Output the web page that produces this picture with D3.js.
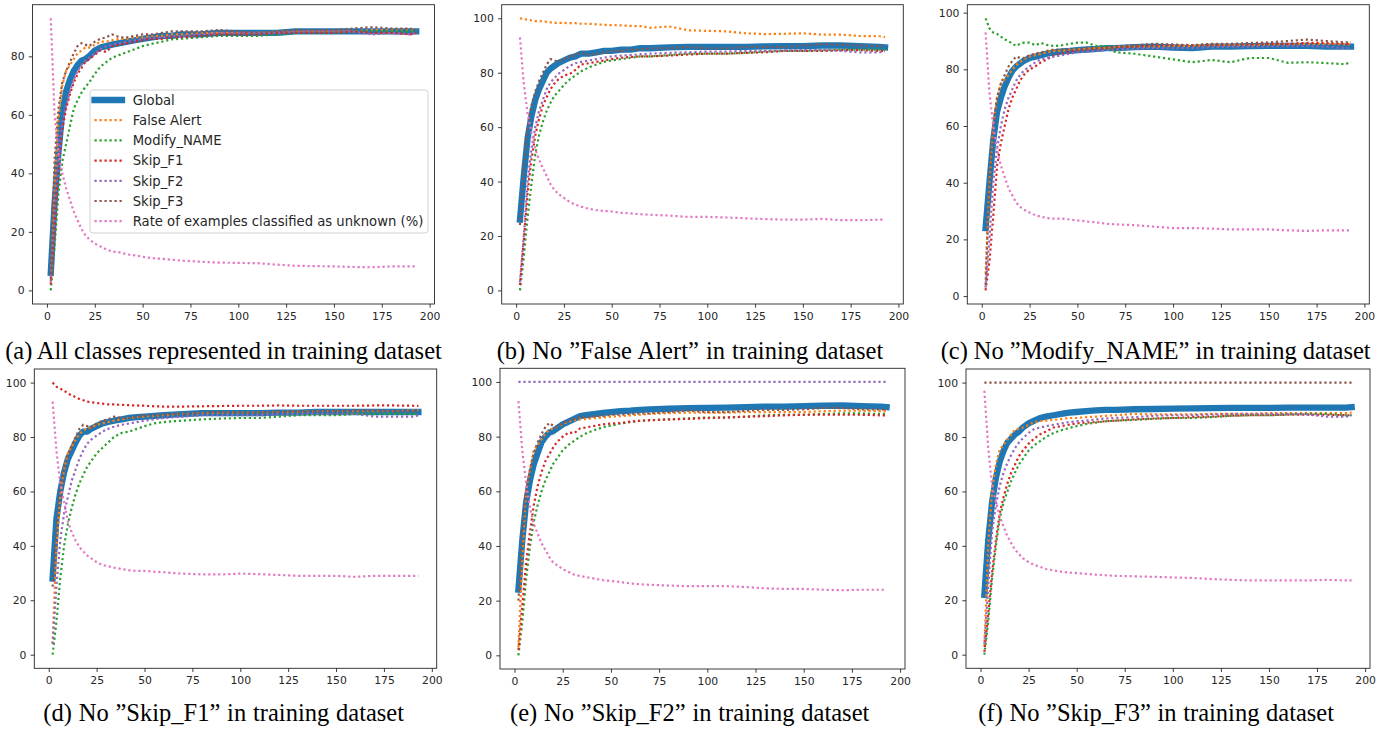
<!DOCTYPE html>
<html><head><meta charset="utf-8">
<script src="https://cdn.jsdelivr.net/npm/d3@7"></script>
<style>body{margin:0;background:#fff;}svg{display:block;}</style>
</head><body>
<svg id="chart" width="1395" height="729"></svg>
<script>
// ---------- data ----------
const epochs = [2,4,6,8,10,12,14,16,18,20,22,25,28,31,34,38,42,46,50,55,60,65,70,80,90,100,110,120,130,140,150,160,170,180,190,193];

const seriesNames = ["Global","False Alert","Modify_NAME","Skip_F1","Skip_F2","Skip_F3","Rate of examples classified as unknown (%)"];
const seriesColors = ["#1f77b4","#ff7f0e","#2ca02c","#d62728","#9467bd","#8c564b","#e377c2"];
const xTickValues = [0,25,50,75,100,125,150,175,200];
const yTickValues = [0,20,40,60,80,100];
const captions = [
  "(a) All classes represented in training dataset",
  "(b) No \u201DFalse Alert\u201D in training dataset",
  "(c) No \u201DModify_NAME\u201D in training dataset",
  "(d) No \u201DSkip_F1\u201D in training dataset",
  "(e) No \u201DSkip_F2\u201D in training dataset",
  "(f) No \u201DSkip_F3\u201D in training dataset"
];

// (a) all classes
const a_global   = [6,30,47,61,68,72,75,77,78.5,79,80,82,83,83.5,84,84.5,85,85.5,86,86.5,87,87,87.5,87.5,88,88,88,88,88.5,88.5,88.5,88.5,88.5,88.5,88.5,88.5];
const a_falseAlert = [3,35,58,70,75,77,79,81,82,83,83,84,85,85,85.5,86,86,86.5,86.5,87,87,87.5,87.5,88,88,88,88,88.5,88.5,88.5,88.5,88.5,89,89,89,89];
const a_modify   = [0,15,33,44,50,56,62,65,67.5,69.5,71,74,76.5,78,79.5,80.5,81.5,82.5,83.5,84.3,85,85.8,86,86.5,87,87,87,87.5,88,88,88,88.5,88.5,88.5,88.5,88.5];
const a_skipF1   = [2,22,42,55,62,67,71,74,76,78,79,80.5,82,81.5,83.5,84,84.5,85,85.5,86,86,86.5,86.5,87,87.5,87.5,87.5,88,88,88,88,88.5,88,88,87.5,88];
const a_skipF2   = [3,25,45,57,63,68,72,75,77,78.5,79.5,81,82.5,83.5,84,84.5,85,85.5,86,86.5,86.5,87,87,87.5,88,88,88,88,88.5,88.5,88.5,88.5,87.5,88,87.5,88];
const a_skipF3   = [4,45,62,71,75,78,81,83.5,84.5,84,83.5,85,86,86.5,87.5,86.5,86.5,87,87.5,87.5,88,88.5,88.5,88.5,89,88.5,88,88.5,89,89,89,89.5,90,89.5,89.5,89];
const a_unknown  = [93,60,47,40,35,31,27,24,21,19,17.5,16,15,14,13.3,13,12.3,12,11.5,11,10.8,10.5,10.2,9.8,9.5,9.4,9.3,8.8,8.4,8.3,8.2,8,7.9,8.2,8.2,8.2];

// (b) no False Alert
const b_global   = [26,42,56,64,70,74,77,80,81.5,82.5,83.5,84.5,85.5,86,87,87,87.5,88,88,88.5,88.5,89,89,89.3,89.5,89.5,89.5,89.5,89.7,89.8,89.8,90,90,89.8,89.5,89.3];
const b_falseAlert = [100,99.7,99.5,99.3,99,99,98.8,98.7,98.5,98.3,98.3,98.3,98.2,98.2,98,98,97.8,97.6,97.5,97.4,97.2,97.1,96.5,97,95.6,95.4,95.2,94.5,94.2,94.3,94.5,94,94,93.5,93.4,93.1];
const b_modify   = [0,12,27,39,50,57,62,66,69,71.5,73,75.5,77.5,79,80.5,82,83,84,84.5,85,85.5,86,86,86.5,87,87,87,87.3,87.8,88,88,88.3,88.5,88.5,88.5,88.5];
const b_skipF1   = [2,18,36,48,57,63,68,71,74,76,77.5,79,79.5,81,83,83.5,84,84.5,85,85.5,85.8,86,86,86.3,86.7,87,87,87.3,87.5,88,88,88,88.3,88.3,88,88];
const b_skipF2   = [3,20,40,52,60,66,70,74,76.5,78,79.5,81,82.5,83.5,84,84.5,85,85.5,86,86.3,86.5,86.8,87,87.3,87.5,87.8,87.8,88,88,88.2,88.3,88.3,88,87.5,87.5,87.8];
const b_skipF3   = [24,45,60,68,73,77,80,83,85,84.5,84,85,86,86.5,87.5,86.5,87,87.5,88,88,88.5,88.5,89,89,89.5,89,89,89.5,89.5,89.5,90,90.5,90.3,90,89.8,89.8];
const b_unknown  = [93,76,65,58,52,48,45,42,39,37,35.5,34,32.5,31.5,30.8,30,29.5,29.2,29,28.5,28.3,28,27.8,27.5,27,27,26.8,26.5,26.2,26,26,26.3,25.8,25.8,26,26];

// (c) no Modify_NAME
const c_global   = [24,40,55,65,70,74,77,79.5,81,82,83,84,84.5,85,85.5,86,86.3,86.5,86.8,87,87.2,87.5,87.5,87.8,88,87.7,87.5,88,88,88.2,88.3,88.3,88.3,88,88,88];
const c_falseAlert = [8,40,60,70,75,76.5,78,80,81.5,82.5,83.5,84.5,85,85.5,86,86.5,86.5,87,87,87.3,87.5,87.5,88,88,88,88.3,88.3,88.5,88.5,88.5,88.8,88.8,89,89,88.8,88.8];
const c_modify   = [98,94.5,93,92.5,91.5,90.5,90,89,88.3,89,89.4,89.4,88.5,89.3,88.6,88.2,88.5,89,89.4,89.4,88.2,88.2,86,85.5,84.5,83.5,82.5,83.3,82.5,84,84,82.3,82.5,82.2,81.8,82.6];
const c_skipF1   = [2,12,28,46,54,60,66,70,73,76,78,80,81,82.5,83.5,85,85.5,86.3,86.6,86.8,87,87.2,87.5,88,88.5,88.5,88.5,88.7,88.7,88.8,89,89,89.3,89.3,89,89];
const c_skipF2   = [3,20,40,52,60,66,70,73,76,78,79.5,81,82.5,83.5,84,84.5,85,85.5,86,86.3,86.5,86.8,87,87.3,87.5,87.5,87.5,87.8,88,88,88,88.2,88.2,88,87.5,87.5];
const c_skipF3   = [4,40,60,70,75,78,81,83,84.5,84,84,85,85.5,86,86.5,87,87,87,87,87.5,87.5,87.8,88,88.5,89,88.8,88.5,89,89,89.3,89.5,90,90.5,90,89.5,89.5];
const c_unknown  = [93,72,60,52,46,42,38,35.5,33,31.5,30.5,29.5,28.5,28,27.5,27.3,27.3,27,26.7,26.3,26,25.5,25.3,25,24.5,24,24,23.8,23.5,23.5,23.5,23.2,23,23.2,23.2,23.2];

// (d) no Skip_F1
const d_global   = [28,50,60,67,72,75,78,80.5,82,82,83,84,85,85.5,86,86.5,87,87.3,87.5,87.8,88,88.2,88.4,88.8,88.8,88.8,88.8,89,89,89.2,89.2,89.2,89.2,89.2,89.2,89.2];
const d_falseAlert = [4,40,58,68,74,76.5,79,81,82.5,83,83.5,84.5,85,85.5,86,86.5,87,87.3,87.5,87.8,88,88.3,88.5,88.8,89,89,89,89.2,89.3,89.5,89.5,89.5,89.5,89.5,89.8,89.8];
const d_modify   = [0,12,28,40,48,54,59,63,66,69,71,74,76,78,80,81.5,82,83,84,85,85.5,85.8,86,86.5,86.8,87,87,87.5,88,88,88,88.5,88.5,88.5,88.5,88.5];
const d_skipF1   = [100,98.5,97.8,97,96,95.3,94.7,94,93.5,93,92.8,92.5,92.3,92,92,91.8,91.7,91.6,91.5,91.3,91.2,91.2,91.2,91.3,91.4,91.5,91.5,91.6,91.5,91.5,91.5,91.5,91.6,91.6,91.5,91.4];
const d_skipF2   = [4,25,42,52,58,64,68,72,75,77.5,79,80.5,82,83,83.8,84.5,85,85.5,86,86.5,87,87.3,87.5,88,88,88,88,88.3,88.5,88.5,88.5,88.5,87.5,87.5,87.5,88];
const d_skipF3   = [25,45,60,68,73,77,80,83,84.5,84,83.5,85,86,86.5,87.5,87,87,87.5,88,88,88.3,88.5,88.5,89,89.3,89,89,89.3,89.5,89.5,89.5,89.8,89.8,89.5,89.5,89.5];
const d_unknown  = [93,75,63,56,49,45,42,39.5,38,36.5,35.5,34,33,32.5,32,31.5,31,30.8,30.8,30.5,30.3,30,29.8,29.5,29.5,29.8,29.6,29.3,29,29,29,28.6,29,29,29,29];

// (e) no Skip_F2
const e_global   = [24,42,56,64,70,74,78,80,81.5,82,83,84.5,85.5,86.5,87.5,88,88.3,88.7,89,89.3,89.5,89.8,90,90.2,90.4,90.5,90.6,90.8,91,91,91.2,91.3,91.4,91.2,91,90.8];
const e_falseAlert = [3,35,60,68,75,77,79,81,82.5,83,83.5,84.5,85.5,86,86.3,86.5,86.8,87,87.3,87.5,87.8,88,88.3,88.6,88.8,88.8,88.8,89,89,89,89,89.3,89.5,89.5,89.3,89.3];
const e_modify   = [0,12,28,40,49,55,60,64,67,70,72,75,77,78.5,80,81.5,82.5,83.5,84,84.8,85.3,85.8,86,86.3,86.7,87,87,87.3,87.8,88,88,88.3,88.5,88.5,88.3,88.3];
const e_skipF1   = [2,18,34,45,55,62,67,71,73.5,76,78,80,81.5,81.3,83,83.5,84,84.5,84.8,85,85.5,85.8,86,86.3,86.5,86.8,87,87.3,87.5,87.8,88,88,88,88,87.8,87.8];
const e_skipF2   = [100,100,100,100,100,100,100,100,100,100,100,100,100,100,100,100,100,100,100,100,100,100,100,100,100,100,100,100,100,100,100,100,100,100,100,100];
const e_skipF3   = [20,45,60,68,74,78,81,83.5,85,84,83.5,85,86,86.5,87.5,87,87.5,87.5,88,88,88.3,88.5,88.5,89,89.5,89,89,89.5,89.8,89.8,90,90.5,90.5,90,90,89.8];
const e_unknown  = [93,75,63,54,48,44.5,41,38.5,36,34,33,31.5,30.5,29.5,29,28.5,28,27.5,27.2,26.8,26.3,26,25.8,25.5,25.3,25.3,25.3,25,24.5,24.3,24.3,24,23.8,24,24,24];

// (f) no Skip_F3
const f_global   = [22,42,56,65,71,75,78,79.5,81,82,83.5,85,86,87,87.5,88,88.5,89,89.2,89.5,89.8,90,90,90.2,90.3,90.4,90.5,90.6,90.7,90.7,90.7,90.8,90.8,90.8,90.8,91];
const f_falseAlert = [3,40,60,70,75.5,77,79,81,82.8,83,83.5,84.5,85.5,85.8,86,86.3,86.6,87,87,87.3,87.5,87.8,88,88.5,88.3,88.3,88.3,88.5,88.5,88.5,88.8,88.8,88.8,88.8,88.8,89];
const f_modify   = [0,12,28,40,50,56,60,64,67,70,72,75,77,78.5,80,81.5,82.5,83.3,84,84.8,85.3,85.8,86,86.3,86.7,87,87,87.3,87.8,88,88,88.3,88.5,88.5,88,88];
const f_skipF1   = [1,15,30,42,52,58,63,67,70,73,75,77.5,79.5,81,82,83.5,84,84.5,85,85.3,85.5,85.8,86,86.5,86.8,87,87.3,87.5,87.8,88,88,88.2,88.2,88.2,88,88];
const f_skipF2   = [4,25,45,55,62,67,70.5,73.5,76,78,79.5,81.5,83,83.5,84,84.5,85,85.5,85.8,86,86.5,86.8,87,87.3,87.8,88,88,88.3,88.5,88.5,88.5,88.5,88.3,87.5,87.5,88];
const f_skipF3   = [100,100,100,100,100,100,100,100,100,100,100,100,100,100,100,100,100,100,100,100,100,100,100,100,100,100,100,100,100,100,100,100,100,100,100,100];
const f_unknown  = [97,76,62,56,51,47,43.5,41,38.5,37,35.5,34,33,32.3,31.5,31,30.5,30.2,30,29.7,29.4,29.2,29,28.8,28.6,28.4,28.2,27.8,27.5,27.3,27.3,27.3,27.3,27.5,27.3,27.3];

// ---------- layout ----------
const panels = [
  {series:[a_global,a_falseAlert,a_modify,a_skipF1,a_skipF2,a_skipF3,a_unknown], box:{l:32.5,r:434.5,t:4.7,b:304}, capX:223.5, capY:359, capW:436.7, legend:true},
  {series:[b_global,b_falseAlert,b_modify,b_skipF1,b_skipF2,b_skipF3,b_unknown], box:{l:501.7,r:903.3,t:4.7,b:304}, capX:690, capY:359, capW:386.6},
  {series:[c_global,c_falseAlert,c_modify,c_skipF1,c_skipF2,c_skipF3,c_unknown], box:{l:967.3,r:1369.3,t:4.7,b:304}, capX:1155.7, capY:359, capW:430},
  {series:[d_global,d_falseAlert,d_modify,d_skipF1,d_skipF2,d_skipF3,d_unknown], box:{l:34.3,r:436.7,t:369,b:668.3}, capX:223.7, capY:721, capW:360.7},
  {series:[e_global,e_falseAlert,e_modify,e_skipF1,e_skipF2,e_skipF3,e_unknown], box:{l:500,r:905,t:368.3,b:669}, capX:689.7, capY:721, capW:359.3},
  {series:[f_global,f_falseAlert,f_modify,f_skipF1,f_skipF2,f_skipF3,f_unknown], box:{l:966,r:1370,t:369,b:668.3}, capX:1156.2, capY:721, capW:355.7}
];

const svg = d3.select("#chart");
const TICK_FONT = "DejaVu Sans, Verdana, sans-serif";
const INK = "#262626";
const DOT_W = 2.2, DOT_DASH = "2.2,2.8", GLOBAL_W = 6.3;

panels.forEach((p, pi) => {
  const bx = p.box;
  const xExt = d3.extent(epochs);
  const xSpan = xExt[1] - xExt[0];
  const allY = p.series.flat();
  const yExt = d3.extent(allY);
  const ySpan = yExt[1] - yExt[0];
  const x = d3.scaleLinear().domain([xExt[0] - 0.05 * xSpan, xExt[1] + 0.05 * xSpan]).range([bx.l, bx.r]);
  const y = d3.scaleLinear().domain([yExt[0] - 0.05 * ySpan, yExt[1] + 0.05 * ySpan]).range([bx.b, bx.t]);

  const g = svg.append("g");
  const clipId = "clip" + pi;
  svg.append("clipPath").attr("id", clipId).append("rect")
    .attr("x", bx.l).attr("y", bx.t).attr("width", bx.r - bx.l).attr("height", bx.b - bx.t);

  const line = d3.line().x((d, i) => x(epochs[i])).y(d => y(d));
  const lines = g.append("g").attr("clip-path", `url(#${clipId})`);
  p.series.forEach((s, si) => {
    const path = lines.append("path").datum(s).attr("d", line)
      .attr("fill", "none").attr("stroke", seriesColors[si]);
    if (si === 0) {
      path.attr("stroke-width", GLOBAL_W).attr("stroke-linecap", "square").attr("stroke-linejoin", "round");
    } else {
      path.attr("stroke-width", DOT_W).attr("stroke-dasharray", DOT_DASH).attr("stroke-linecap", "butt");
    }
  });

  // frame
  g.append("rect").attr("x", bx.l).attr("y", bx.t).attr("width", bx.r - bx.l).attr("height", bx.b - bx.t)
    .attr("fill", "none").attr("stroke", INK).attr("stroke-width", 0.9);

  // axes
  const yd = y.domain();
  const xAxis = d3.axisBottom(x).tickValues(xTickValues).tickSize(3.7).tickPadding(4.5);
  const yAxis = d3.axisLeft(y).tickValues(yTickValues.filter(v => v >= yd[0] && v <= yd[1])).tickSize(3.7).tickPadding(4.2);
  const gx = g.append("g").attr("transform", `translate(0,${bx.b})`).call(xAxis);
  const gy = g.append("g").attr("transform", `translate(${bx.l},0)`).call(yAxis);
  [gx, gy].forEach(ax => {
    ax.select(".domain").remove();
    ax.selectAll("line").attr("stroke", INK).attr("stroke-width", 0.9);
    ax.selectAll("text").attr("fill", INK).style("font-family", TICK_FONT).style("font-size", "10.8px");
  });

  // caption
  const cap = svg.append("text").attr("x", p.capX).attr("y", p.capY)
    .attr("text-anchor", "middle")
    .style("font-family", "Liberation Serif, Times New Roman, serif").style("font-size", "24.5px")
    .attr("fill", "#000").text(captions[pi]);
  const natural = cap.node().getComputedTextLength();
  const nSpaces = (captions[pi].match(/ /g) || []).length;
  if (nSpaces > 0) cap.style("word-spacing", ((p.capW - natural) / nSpaces) + "px");

  // legend
  if (p.legend) {
    const lg = g.append("g");
    lg.append("rect").attr("x", 90).attr("y", 90).attr("width", 338).attr("height", 143)
      .attr("rx", 3).attr("fill", "#fff").attr("fill-opacity", 0.8).attr("stroke", "#cccccc").attr("stroke-width", 0.9);
    seriesNames.forEach((name, si) => {
      const yy = 100 + si * 20.2;
      const h = lg.append("line").attr("x1", 94.5).attr("x2", 122).attr("y1", yy).attr("y2", yy)
        .attr("stroke", seriesColors[si]);
      if (si === 0) h.attr("stroke-width", GLOBAL_W).attr("stroke-linecap", "square");
      else h.attr("stroke-width", DOT_W).attr("stroke-dasharray", DOT_DASH);
      const t = lg.append("text").attr("x", 132.7).attr("y", yy).attr("dy", "0.36em")
        .style("font-family", TICK_FONT).style("font-size", "13.2px").attr("fill", INK).text(name);
    });
  }
});
</script>
</body></html>
